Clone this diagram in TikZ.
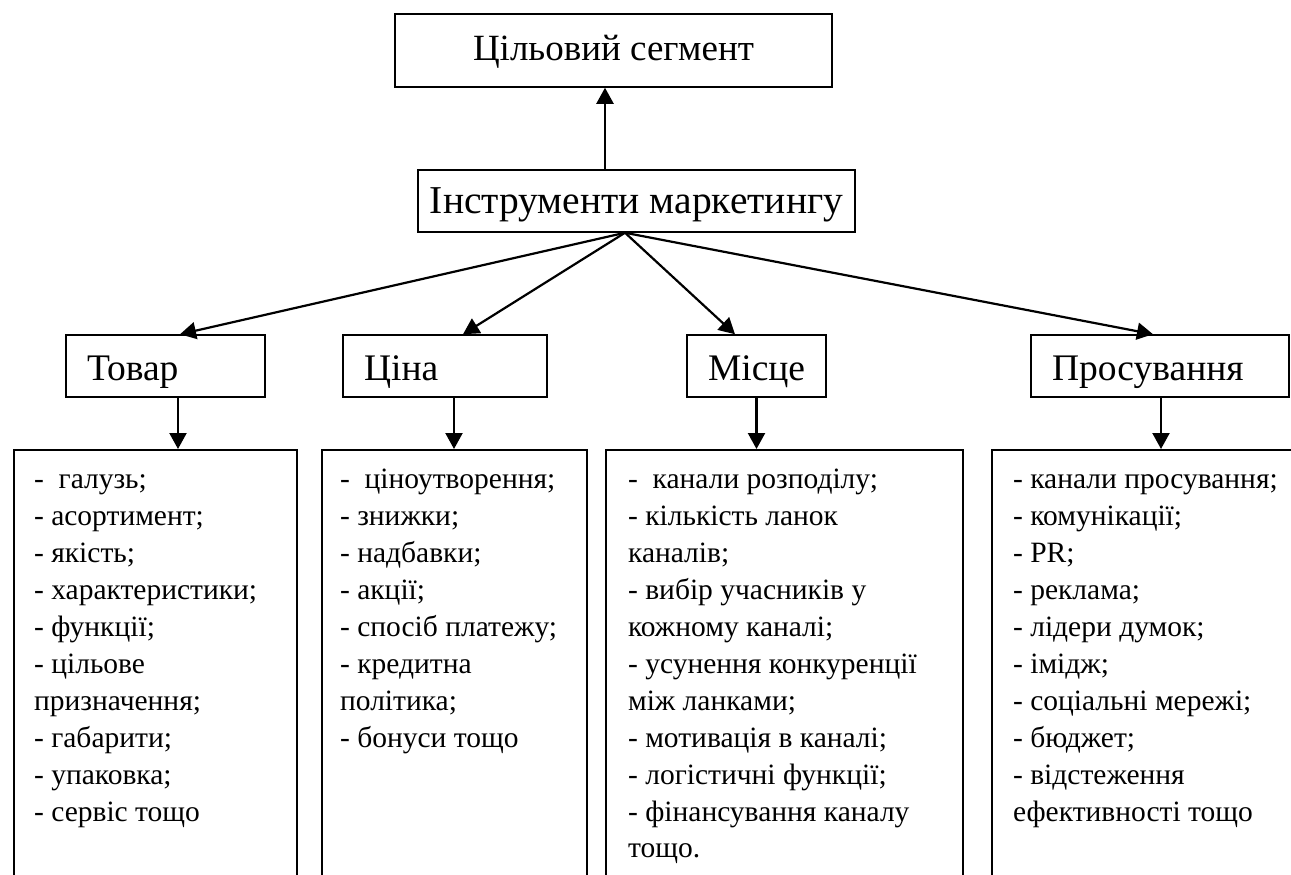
\documentclass[tikz,border=0pt]{standalone}
\usepackage{fontspec}
\setmainfont{Liberation Serif}
\usetikzlibrary{arrows.meta}

\begin{document}
\begin{tikzpicture}[x=1pt,y=-1pt,->,>={Triangle[length=16pt,width=17pt]},line width=2.2pt,
  head node/.style={draw,rectangle,line width=1.5pt,minimum height=62pt,inner xsep=21pt,text height=28pt,text depth=0pt,font=\fontsize{37.5}{42}\selectfont},
  list box/.style={draw,rectangle,line width=1.5pt,anchor=north west,inner sep=0pt,minimum height=460pt},
  list text/.style={anchor=north west,align=left,inner sep=0pt,font=\fontsize{29.5}{36.9}\selectfont}]
  \useasboundingbox (0,0) rectangle (1291,875);
  \clip (0,0) rectangle (1291,875);

  \node[head node,minimum width=437pt,minimum height=73pt,text height=21pt,font=\fontsize{37}{42}\selectfont] (1) at (613.5,50.5) {Цільовий сегмент};
  \node[head node,minimum width=437pt,inner xsep=10pt,text height=24pt,font=\fontsize{39.5}{44}\selectfont] (2) at (636.5,201) {Інструменти маркетингу};
  \node[head node,text width=157pt,align=left] (3) at (165.5,366) {Товар};
  \node[head node,text width=162pt,align=left] (4) at (445,366) {Ціна};
  \node[head node,text width=97pt,align=left] (5) at (756.5,366) {Місце};
  \node[head node,text width=216pt,align=left] (6) at (1160,366) {Просування};

  \node[list box,minimum width=283pt] (7) at (13,449) {};
  \node[list box,minimum width=265pt] (8) at (321,449) {};
  \node[list box,minimum width=357pt] (9) at (605,449) {};
  \node[list box,minimum width=330pt] (10) at (991,449) {};

  \node[list text] (t7) at ([xshift=20pt,yshift=-13pt]7.north west) {\strut-~ галузь;\\- асортимент;\\- якість;\\- характеристики;\\- функції;\\- цільове\\призначення;\\- габарити;\\- упаковка;\\- сервіс тощо};
  \node[list text] (t8) at ([xshift=18pt,yshift=-13pt]8.north west) {\strut-~ ціноутворення;\\- знижки;\\- надбавки;\\- акції;\\- спосіб платежу;\\- кредитна\\політика;\\- бонуси тощо};
  \node[list text] (t9) at ([xshift=22pt,yshift=-13pt]9.north west) {\strut-~ канали розподілу;\\- кількість ланок\\каналів;\\- вибір учасників у\\кожному каналі;\\- усунення конкуренції\\між ланками;\\- мотивація в каналі;\\- логістичні функції;\\- фінансування каналу\\тощо.};
  \node[list text] (t10) at ([xshift=21pt,yshift=-13pt]10.north west) {\strut- канали просування;\\- комунікації;\\- PR;\\- реклама;\\- лідери думок;\\- імідж;\\- соціальні мережі;\\- бюджет;\\- відстеження\\ефективності тощо};

  \coordinate (v) at (605,0);
  \coordinate (h) at ([xshift=-11.5pt]2.south);

\path
  (2.north -| v) edge (1.south -| v)
  (h) edge ([xshift=14.5pt]3.north)
  (h) edge ([xshift=18pt]4.north)
  (h) edge ([xshift=-21.5pt]5.north)
  (h) edge ([xshift=-7pt]6.north)
  ([xshift=12.5pt]3.south) edge ([xshift=12.5pt]3.south |- 7.north)
  ([xshift=9pt]4.south) edge ([xshift=9pt]4.south |- 8.north)
  (5.south) edge (5.south |- 9.north)
  ([xshift=1pt]6.south) edge ([xshift=1pt]6.south |- 10.north)
;
\end{tikzpicture}
\end{document}
